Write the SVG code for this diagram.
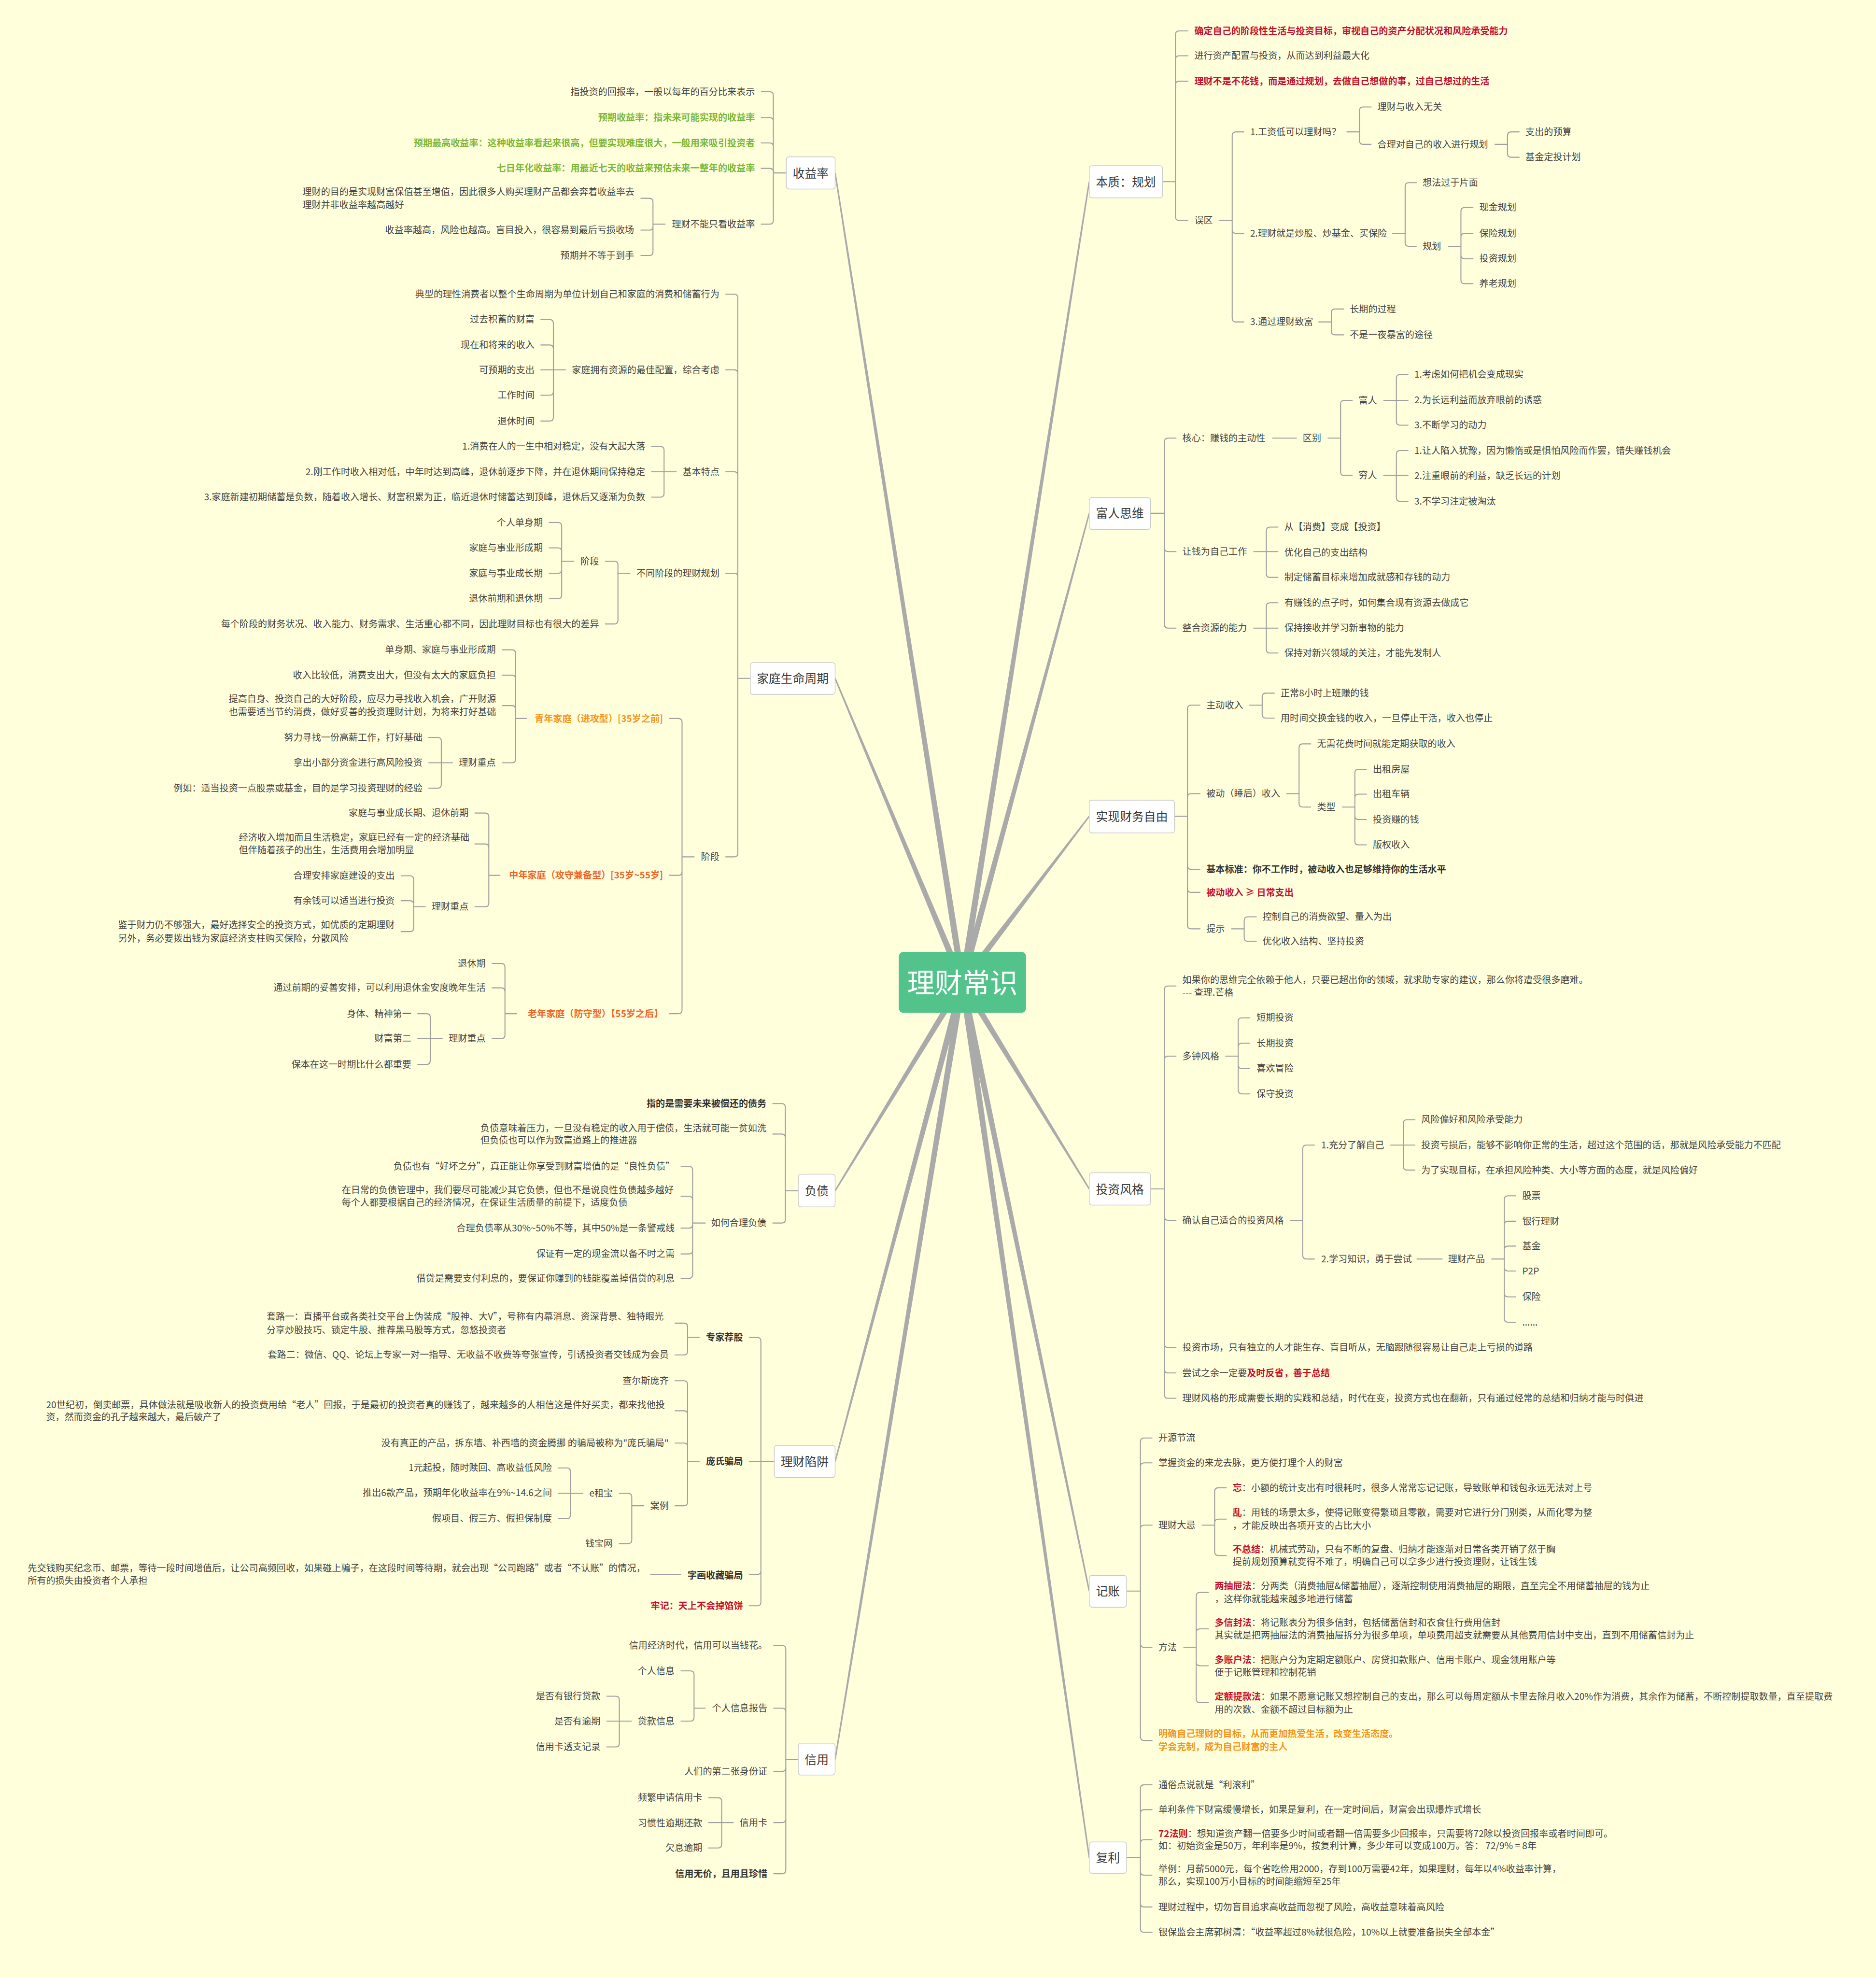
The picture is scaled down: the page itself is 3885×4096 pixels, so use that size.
<svg xmlns="http://www.w3.org/2000/svg" width="3885" height="4096" viewBox="0 0 3885 4096">
<style>
text{font-family:"Noto Sans CJK SC","Noto Sans",sans-serif;font-size:20px;fill:#444}
.e{text-anchor:end}
.b{font-weight:bold;fill:#333}
.r{font-weight:bold;fill:#c8102e}
.g{font-weight:bold;fill:#7cb83a}
.o{font-weight:bold;fill:#f7941d}
.o2{font-weight:bold;fill:#f2652a}
.m{font-size:26px;text-anchor:middle;fill:#3a3a3a}
.box{fill:#fff;stroke:#c9c9c9;stroke-width:1.5}
.c{fill:none;stroke:#a0a0a0;stroke-width:2.2}
.br{fill:#aaa}
</style>
<rect width="3885" height="4096" fill="#ffffdc"/>
<g transform="scale(0.955)">
<g id="connectors">
<polygon class="br" points="2093.9,2131.1 2363.5,394.2 2360.5,393.8 2080.1,2128.9"/>
<polygon class="br" points="2093.8,2131.8 2363.4,1113.4 2360.6,1112.6 2080.2,2128.2"/>
<polygon class="br" points="2092.6,2134.3 2363.2,1770.9 2360.8,1769.1 2081.4,2125.7"/>
<polygon class="br" points="2081.0,2133.7 2360.7,2578.8 2363.3,2577.2 2093.0,2126.3"/>
<polygon class="br" points="2080.1,2131.4 2360.5,3450.3 2363.5,3449.7 2093.9,2128.6"/>
<polygon class="br" points="2080.1,2131.0 2360.5,4028.2 2363.5,4027.8 2093.9,2129.0"/>
<polygon class="br" points="2093.9,2128.9 1812.5,374.8 1809.5,375.2 2080.1,2131.1"/>
<polygon class="br" points="2093.5,2127.3 1812.4,1470.4 1809.6,1471.6 2080.5,2132.7"/>
<polygon class="br" points="2081.0,2126.4 1809.7,2581.2 1812.3,2582.8 2093.0,2133.6"/>
<polygon class="br" points="2080.2,2128.2 1809.6,3168.6 1812.5,3169.4 2093.8,2131.8"/>
<polygon class="br" points="2080.1,2128.9 1809.5,3814.8 1812.5,3815.2 2093.9,2131.1"/>
<path class="c" d="M2521,394H2549 M2549,394V75Q2549,67 2557,67H2577 M2549,394V129Q2549,121 2557,121H2577 M2549,394V184Q2549,176 2557,176H2577 M2549,394V470Q2549,478 2557,478H2577"/>
<path class="c" d="M2643,478H2672 M2672,478V294Q2672,286 2680,286H2698 M2672,478V498Q2672,506 2680,506H2698 M2672,478V690Q2672,698 2680,698H2698"/>
<path class="c" d="M2920,286H2948 M2948,286V240Q2948,232 2956,232H2974 M2948,286V305Q2948,313 2956,313H2974"/>
<path class="c" d="M3241,313H3269 M3269,313V294Q3269,286 3277,286H3295 M3269,313V333Q3269,341 3277,341H3295"/>
<path class="c" d="M3019,506H3047 M3047,506V404Q3047,396 3055,396H3072 M3047,506V526Q3047,534 3055,534H3072"/>
<path class="c" d="M3140,534H3168 M3168,534V458Q3168,450 3176,450H3195 M3168,534V514Q3168,506 3176,506H3195 M3168,534V553Q3168,561 3176,561H3195 M3168,534V607Q3168,615 3176,615H3195"/>
<path class="c" d="M2859,698H2887 M2887,698V678Q2887,670 2895,670H2914 M2887,698V718Q2887,726 2895,726H2914"/>
<path class="c" d="M2495,1113H2525 M2525,1113V958Q2525,950 2533,950H2551 M2525,1113V1188Q2525,1196 2533,1196H2551 M2525,1113V1354Q2525,1362 2533,1362H2551"/>
<path class="c" d="M2759,950H2812"/>
<path class="c" d="M2879,950H2907 M2907,950V876Q2907,868 2915,868H2933 M2907,950V1023Q2907,1031 2915,1031H2933"/>
<path class="c" d="M3000,868H3028 M3028,868V820Q3028,812 3036,812H3054 M3028,868H3054 M3028,868V914Q3028,922 3036,922H3054"/>
<path class="c" d="M3000,1031H3028 M3028,1031V985Q3028,977 3036,977H3054 M3028,1031H3054 M3028,1031V1079Q3028,1087 3036,1087H3054"/>
<path class="c" d="M2718,1196H2746 M2746,1196V1151Q2746,1143 2754,1143H2772 M2746,1196H2772 M2746,1196V1244Q2746,1252 2754,1252H2772"/>
<path class="c" d="M2718,1362H2746 M2746,1362V1315Q2746,1307 2754,1307H2772 M2746,1362H2772 M2746,1362V1408Q2746,1416 2754,1416H2772"/>
<path class="c" d="M2547,1770H2575 M2575,1770V1537Q2575,1529 2583,1529H2603 M2575,1770V1729Q2575,1721 2583,1721H2603 M2575,1770V1877Q2575,1885 2583,1885H2603 M2575,1770V1927Q2575,1935 2583,1935H2603 M2575,1770V2006Q2575,2014 2583,2014H2603"/>
<path class="c" d="M2709,1529H2737 M2737,1529V1511Q2737,1503 2745,1503H2764 M2737,1529V1549Q2737,1557 2745,1557H2764"/>
<path class="c" d="M2789,1721H2817 M2817,1721V1621Q2817,1613 2825,1613H2843 M2817,1721V1742Q2817,1750 2825,1750H2843"/>
<path class="c" d="M2910,1750H2938 M2938,1750V1676Q2938,1668 2946,1668H2964 M2938,1750V1730Q2938,1722 2946,1722H2964 M2938,1750V1769Q2938,1777 2946,1777H2964 M2938,1750V1824Q2938,1832 2946,1832H2964"/>
<path class="c" d="M2670,2014H2698 M2698,2014V1996Q2698,1988 2706,1988H2725 M2698,2014V2033Q2698,2041 2706,2041H2725"/>
<path class="c" d="M2495,2578H2525 M2525,2578V2146Q2525,2138 2533,2138H2551 M2525,2578V2298Q2525,2290 2533,2290H2551 M2525,2578V2638Q2525,2646 2533,2646H2551 M2525,2578V2914Q2525,2922 2533,2922H2551 M2525,2578V2969Q2525,2977 2533,2977H2551 M2525,2578V3024Q2525,3032 2533,3032H2551"/>
<path class="c" d="M2657,2290H2685 M2685,2290V2215Q2685,2207 2693,2207H2711 M2685,2290V2270Q2685,2262 2693,2262H2711 M2685,2290V2309Q2685,2317 2693,2317H2711 M2685,2290V2364Q2685,2372 2693,2372H2711"/>
<path class="c" d="M2797,2646H2825 M2825,2646V2491Q2825,2483 2833,2483H2851 M2825,2646V2722Q2825,2730 2833,2730H2851"/>
<path class="c" d="M3015,2483H3043 M3043,2483V2436Q3043,2428 3051,2428H3069 M3043,2483H3069 M3043,2483V2529Q3043,2537 3051,2537H3069"/>
<path class="c" d="M3072,2730H3128"/>
<path class="c" d="M3234,2730H3262 M3262,2730V2601Q3262,2593 3270,2593H3288 M3262,2730V2656Q3262,2648 3270,2648H3288 M3262,2730V2710Q3262,2702 3270,2702H3288 M3262,2730V2748Q3262,2756 3270,2756H3288 M3262,2730V2804Q3262,2812 3270,2812H3288 M3262,2730V2859Q3262,2867 3270,2867H3288"/>
<path class="c" d="M2443,3450H2473 M2473,3450V3126Q2473,3118 2481,3118H2499 M2473,3450V3180Q2473,3172 2481,3172H2499 M2473,3450V3315Q2473,3307 2481,3307H2499 M2473,3450V3564Q2473,3572 2481,3572H2499 M2473,3450V3766Q2473,3774 2481,3774H2499"/>
<path class="c" d="M2606,3307H2634 M2634,3307V3234Q2634,3226 2642,3226H2660 M2634,3307V3302Q2634,3294 2642,3294H2660 M2634,3307V3365Q2634,3373 2642,3373H2660"/>
<path class="c" d="M2566,3572H2594 M2594,3572V3461Q2594,3453 2602,3453H2621 M2594,3572V3540Q2594,3532 2602,3532H2621 M2594,3572V3604Q2594,3612 2602,3612H2621 M2594,3572V3684Q2594,3692 2602,3692H2621"/>
<path class="c" d="M2443,4028H2473 M2473,4028V3878Q2473,3870 2481,3870H2499 M2473,4028V3932Q2473,3924 2481,3924H2499 M2473,4028V3997Q2473,3989 2481,3989H2499 M2473,4028V4058Q2473,4066 2481,4066H2499 M2473,4028V4127Q2473,4135 2481,4135H2499 M2473,4028V4182Q2473,4190 2481,4190H2499"/>
<path class="c" d="M1705,375H1677 M1677,375V207Q1677,199 1669,199H1650 M1677,375V263Q1677,255 1669,255H1650 M1677,375V318Q1677,310 1669,310H1650 M1677,375V373Q1677,365 1669,365H1650 M1677,375V478Q1677,486 1669,486H1650"/>
<path class="c" d="M1443,486H1416 M1416,486V438Q1416,430 1408,430H1389 M1416,486V491Q1416,499 1408,499H1389 M1416,486V546Q1416,554 1408,554H1389"/>
<path class="c" d="M1627,1471H1600 M1600,1471V646Q1600,638 1592,638H1573 M1600,1471V810Q1600,802 1592,802H1573 M1600,1471V1031Q1600,1023 1592,1023H1573 M1600,1471V1251Q1600,1243 1592,1243H1573 M1600,1471V1850Q1600,1858 1592,1858H1573"/>
<path class="c" d="M1227,802H1200 M1200,802V701Q1200,693 1192,693H1172 M1200,802V756Q1200,748 1192,748H1172 M1200,802H1172 M1200,802V849Q1200,857 1192,857H1172 M1200,802V905Q1200,913 1192,913H1172"/>
<path class="c" d="M1467,1023H1440 M1440,1023V976Q1440,968 1432,968H1412 M1440,1023H1412 M1440,1023V1070Q1440,1078 1432,1078H1412"/>
<path class="c" d="M1367,1243H1340 M1340,1243V1225Q1340,1217 1332,1217H1312 M1340,1243V1345Q1340,1353 1332,1353H1312"/>
<path class="c" d="M1245,1217H1218 M1218,1217V1141Q1218,1133 1210,1133H1190 M1218,1217V1196Q1218,1188 1210,1188H1190 M1218,1217V1235Q1218,1243 1210,1243H1190 M1218,1217V1290Q1218,1298 1210,1298H1190"/>
<path class="c" d="M1506,1858H1479 M1479,1858V1566Q1479,1558 1471,1558H1451 M1479,1858V1890Q1479,1898 1471,1898H1451 M1479,1858V2190Q1479,2198 1471,2198H1451"/>
<path class="c" d="M1143,1558H1118 M1118,1558V1417Q1118,1409 1110,1409H1088 M1118,1558V1472Q1118,1464 1110,1464H1088 M1118,1558V1538Q1118,1530 1110,1530H1088 M1118,1558V1646Q1118,1654 1110,1654H1088"/>
<path class="c" d="M982,1654H957 M957,1654V1607Q957,1599 949,1599H929 M957,1654H929 M957,1654V1701Q957,1709 949,1709H929"/>
<path class="c" d="M1085,1898H1060 M1060,1898V1771Q1060,1763 1052,1763H1029 M1060,1898V1838Q1060,1830 1052,1830H1029 M1060,1898V1958Q1060,1966 1052,1966H1029"/>
<path class="c" d="M923,1966H897 M897,1966V1907Q897,1899 889,1899H869 M897,1966V1961Q897,1953 889,1953H869 M897,1966V2012Q897,2020 889,2020H869"/>
<path class="c" d="M1121,2198H1095 M1095,2198V2097Q1095,2089 1087,2089H1066 M1095,2198V2150Q1095,2142 1087,2142H1066 M1095,2198V2244Q1095,2252 1087,2252H1066"/>
<path class="c" d="M960,2252H933 M933,2252V2206Q933,2198 925,2198H905 M933,2252H905 M933,2252V2300Q933,2308 925,2308H905"/>
<path class="c" d="M1731,2582H1703 M1703,2582V2401Q1703,2393 1695,2393H1675 M1703,2582V2467Q1703,2459 1695,2459H1675 M1703,2582V2644Q1703,2652 1695,2652H1675"/>
<path class="c" d="M1530,2652H1502 M1502,2652V2537Q1502,2529 1494,2529H1476 M1502,2652V2602Q1502,2594 1494,2594H1476 M1502,2652V2655Q1502,2663 1494,2663H1476 M1502,2652V2711Q1502,2719 1494,2719H1476 M1502,2652V2764Q1502,2772 1494,2772H1476"/>
<path class="c" d="M1679,3169H1650 M1650,3169V2908Q1650,2900 1642,2900H1624 M1650,3169H1624 M1650,3169V3406Q1650,3414 1642,3414H1624 M1650,3169V3474Q1650,3482 1642,3482H1624"/>
<path class="c" d="M1517,2900H1491 M1491,2900V2877Q1491,2869 1483,2869H1463 M1491,2900V2930Q1491,2938 1483,2938H1463"/>
<path class="c" d="M1517,3169H1491 M1491,3169V3002Q1491,2994 1483,2994H1463 M1491,3169V3067Q1491,3059 1483,3059H1463 M1491,3169V3137Q1491,3129 1483,3129H1463 M1491,3169V3257Q1491,3265 1483,3265H1463"/>
<path class="c" d="M1397,3265H1370 M1370,3265V3246Q1370,3238 1362,3238H1342 M1370,3265V3339Q1370,3347 1362,3347H1342"/>
<path class="c" d="M1264,3238H1237 M1237,3238V3191Q1237,3183 1229,3183H1210 M1237,3238H1210 M1237,3238V3285Q1237,3293 1229,3293H1210"/>
<path class="c" d="M1477,3414H1410"/>
<path class="c" d="M1731,3815H1704 M1704,3815V3576Q1704,3568 1696,3568H1677 M1704,3815V3712Q1704,3704 1696,3704H1677 M1704,3815V3833Q1704,3841 1696,3841H1677 M1704,3815V3944Q1704,3952 1696,3952H1677 M1704,3815V4055Q1704,4063 1696,4063H1677"/>
<path class="c" d="M1530,3704H1505 M1505,3704V3631Q1505,3623 1497,3623H1476 M1505,3704V3724Q1505,3732 1497,3732H1476"/>
<path class="c" d="M1370,3732H1343 M1343,3732V3686Q1343,3678 1335,3678H1315 M1343,3732H1315 M1343,3732V3780Q1343,3788 1335,3788H1315"/>
<path class="c" d="M1591,3952H1565 M1565,3952V3906Q1565,3898 1557,3898H1536 M1565,3952H1536 M1565,3952V3999Q1565,4007 1557,4007H1536"/>
</g>

<g id="root">
<rect x="1949" y="2064" width="276" height="132" rx="10" fill="#52c38b"/>
<text x="2087" y="2153" style="font-size:60px;fill:#fff;text-anchor:middle">理财常识</text>
</g>

<g id="n-benzhi">
<rect class="box" x="2362" y="359" width="159" height="70" rx="6"/>
<text class="m" x="2441.5" y="404">本质：规划</text>
<text class="r" x="2590" y="74">确定自己的阶段性生活与投资目标，审视自己的资产分配状况和风险承受能力</text>
<text x="2590" y="128">进行资产配置与投资，从而达到利益最大化</text>
<text class="r" x="2590" y="183">理财不是不花钱，而是通过规划，去做自己想做的事，过自己想过的生活</text>
<text x="2590" y="485">误区</text>
<text x="2711" y="293">1.工资低可以理财吗？</text>
<text x="2711" y="513">2.理财就是炒股、炒基金、买保险</text>
<text x="2711" y="705">3.通过理财致富</text>
<text x="2987" y="239">理财与收入无关</text>
<text x="2987" y="320">合理对自己的收入进行规划</text>
<text x="3308" y="293">支出的预算</text>
<text x="3308" y="348">基金定投计划</text>
<text x="3085" y="403">想法过于片面</text>
<text x="3085" y="541">规划</text>
<text x="3208" y="457">现金规划</text>
<text x="3208" y="513">保险规划</text>
<text x="3208" y="568">投资规划</text>
<text x="3208" y="622">养老规划</text>
<text x="2927" y="677">长期的过程</text>
<text x="2927" y="733">不是一夜暴富的途径</text>
</g>

<g id="n-furen">
<rect class="box" x="2362" y="1079" width="133" height="69" rx="6"/>
<text class="m" x="2428.5" y="1123">富人思维</text>
<text x="2564" y="957">核心：赚钱的主动性</text>
<text x="2564" y="1203">让钱为自己工作</text>
<text x="2564" y="1369">整合资源的能力</text>
<text x="2825" y="957">区别</text>
<text x="2946" y="875">富人</text>
<text x="2946" y="1038">穷人</text>
<text x="3067" y="819">1.考虑如何把机会变成现实</text>
<text x="3067" y="874">2.为长远利益而放弃眼前的诱惑</text>
<text x="3067" y="929">3.不断学习的动力</text>
<text x="3067" y="984">1.让人陷入犹豫，因为懒惰或是惧怕风险而作罢，错失赚钱机会</text>
<text x="3067" y="1039">2.注重眼前的利益，缺乏长远的计划</text>
<text x="3067" y="1094">3.不学习注定被淘汰</text>
<text x="2785" y="1150">从【消费】变成【投资】</text>
<text x="2785" y="1205">优化自己的支出结构</text>
<text x="2785" y="1259">制定储蓄目标来增加成就感和存钱的动力</text>
<text x="2785" y="1314">有赚钱的点子时，如何集合现有资源去做成它</text>
<text x="2785" y="1369">保持接收并学习新事物的能力</text>
<text x="2785" y="1423">保持对新兴领域的关注，才能先发制人</text>
</g>

<g id="n-ziyou">
<rect class="box" x="2362" y="1735" width="185" height="71" rx="6"/>
<text class="m" x="2454.5" y="1780">实现财务自由</text>
<text x="2616" y="1536">主动收入</text>
<text x="2616" y="1728">被动（睡后）收入</text>
<text class="b" x="2616" y="1892">基本标准：你不工作时，被动收入也足够维持你的生活水平</text>
<text class="r" x="2616" y="1942">被动收入 ≥ 日常支出</text>
<text x="2616" y="2021">提示</text>
<text x="2777" y="1510">正常8小时上班赚的钱</text>
<text x="2777" y="1564">用时间交换金钱的收入，一旦停止干活，收入也停止</text>
<text x="2856" y="1620">无需花费时间就能定期获取的收入</text>
<text x="2856" y="1757">类型</text>
<text x="2977" y="1675">出租房屋</text>
<text x="2977" y="1729">出租车辆</text>
<text x="2977" y="1784">投资赚的钱</text>
<text x="2977" y="1839">版权收入</text>
<text x="2738" y="1995">控制自己的消费欲望、量入为出</text>
<text x="2738" y="2048">优化收入结构、坚持投资</text>
</g>

<g id="n-touzi">
<rect class="box" x="2362" y="2543" width="133" height="70" rx="6"/>
<text class="m" x="2428.5" y="2588">投资风格</text>
<text x="2564" y="2132">如果你的思维完全依赖于他人，只要已超出你的领域，就求助专家的建议，那么你将遭受很多磨难。</text>
<text x="2564" y="2159">--- 查理.芒格</text>
<text x="2564" y="2297">多钟风格</text>
<text x="2564" y="2653">确认自己适合的投资风格</text>
<text x="2564" y="2929">投资市场，只有独立的人才能生存、盲目听从，无脑跟随很容易让自己走上亏损的道路</text>
<text x="2564" y="2984">尝试之余一定要<tspan class="r">及时反省，善于总结</tspan></text>
<text x="2564" y="3039">理财风格的形成需要长期的实践和总结，时代在变，投资方式也在翻新，只有通过经常的总结和归纳才能与时俱进</text>
<text x="2725" y="2214">短期投资</text>
<text x="2725" y="2269">长期投资</text>
<text x="2725" y="2324">喜欢冒险</text>
<text x="2725" y="2379">保守投资</text>
<text x="2865" y="2490">1.充分了解自己</text>
<text x="2865" y="2737">2.学习知识，勇于尝试</text>
<text x="3082" y="2435">风险偏好和风险承受能力</text>
<text x="3082" y="2490">投资亏损后，能够不影响你正常的生活，超过这个范围的话，那就是风险承受能力不匹配</text>
<text x="3082" y="2544">为了实现目标，在承担风险种类、大小等方面的态度，就是风险偏好</text>
<text x="3140" y="2737">理财产品</text>
<text x="3301" y="2600">股票</text>
<text x="3301" y="2655">银行理财</text>
<text x="3301" y="2709">基金</text>
<text x="3301" y="2763">P2P</text>
<text x="3301" y="2819">保险</text>
<text x="3301" y="2874">......</text>
</g>

<g id="n-jizhang">
<rect class="box" x="2362" y="3416" width="81" height="69" rx="6"/>
<text class="m" x="2402.5" y="3460">记账</text>
<text x="2512" y="3125">开源节流</text>
<text x="2512" y="3179">掌握资金的来龙去脉，更方便打理个人的财富</text>
<text x="2512" y="3314">理财大忌</text>
<text x="2512" y="3579">方法</text>
<text class="o" x="2512" y="3767">明确自己理财的目标，从而更加热爱生活，改变生活态度。</text>
<text class="o" x="2512" y="3795">学会克制，成为自己财富的主人</text>
<text x="2673" y="3234"><tspan class="r">忘</tspan>：小额的统计支出有时很耗时，很多人常常忘记记账，导致账单和钱包永远无法对上号</text>
<text x="2673" y="3287"><tspan class="r">乱</tspan>：用钱的场景太多，使得记账变得繁琐且零散，需要对它进行分门别类，从而化零为整</text>
<text x="2673" y="3315">，才能反映出各项开支的占比大小</text>
<text x="2673" y="3367"><tspan class="r">不总结</tspan>：机械式劳动，只有不断的复盘、归纳才能逐渐对日常各类开销了然于胸</text>
<text x="2673" y="3394">提前规划预算就变得不难了，明确自己可以拿多少进行投资理财，让钱生钱</text>
<text x="2634" y="3446"><tspan class="r">两抽屉法</tspan>：分两类（消费抽屉&amp;储蓄抽屉），逐渐控制使用消费抽屉的期限，直至完全不用储蓄抽屉的钱为止</text>
<text x="2634" y="3474">，这样你就能越来越多地进行储蓄</text>
<text x="2634" y="3526"><tspan class="r">多信封法</tspan>：将记账表分为很多信封，包括储蓄信封和衣食住行费用信封</text>
<text x="2634" y="3553">其实就是把两抽屉法的消费抽屉拆分为很多单项，单项费用超支就需要从其他费用信封中支出，直到不用储蓄信封为止</text>
<text x="2634" y="3606"><tspan class="r">多账户法</tspan>：把账户分为定期定额账户、房贷扣款账户、信用卡账户、现金领用账户等</text>
<text x="2634" y="3634">便于记账管理和控制花销</text>
<text x="2634" y="3686"><tspan class="r">定额提款法</tspan>：如果不愿意记账又想控制自己的支出，那么可以每周定额从卡里去除月收入20%作为消费，其余作为储蓄，不断控制提取数量，直至提取费</text>
<text x="2634" y="3714">用的次数、金额不超过目标额为止</text>
</g>

<g id="n-fuli">
<rect class="box" x="2362" y="3994" width="81" height="68" rx="6"/>
<text class="m" x="2402.5" y="4038">复利</text>
<text x="2512" y="3877">通俗点说就是“利滚利”</text>
<text x="2512" y="3931">单利条件下财富缓慢增长，如果是复利，在一定时间后，财富会出现爆炸式增长</text>
<text x="2512" y="3983"><tspan class="r">72法则</tspan>：想知道资产翻一倍要多少时间或者翻一倍需要多少回报率，只需要将72除以投资回报率或者时间即可。</text>
<text x="2512" y="4009">如：初始资金是50万，年利率是9%，按复利计算，多少年可以变成100万。答： 72/9% = 8年</text>
<text x="2512" y="4060">举例：月薪5000元，每个省吃俭用2000，存到100万需要42年，如果理财，每年以4%收益率计算，</text>
<text x="2512" y="4087">那么，实现100万小目标的时间能缩短至25年</text>
<text x="2512" y="4142">理财过程中，切勿盲目追求高收益而忽视了风险，高收益意味着高风险</text>
<text x="2512" y="4197">银保监会主席郭树清：“收益率超过8%就很危险，10%以上就要准备损失全部本金”</text>
</g>

<g id="n-shouyi">
<rect class="box" x="1705" y="340" width="106" height="70" rx="6"/>
<text class="m" x="1758" y="385">收益率</text>
<text class="e" x="1637" y="206">指投资的回报率，一般以每年的百分比来表示</text>
<text class="e g" x="1637" y="262">预期收益率：指未来可能实现的收益率</text>
<text class="e g" x="1637" y="317">预期最高收益率：这种收益率看起来很高，但要实现难度很大，一般用来吸引投资者</text>
<text class="e g" x="1637" y="372">七日年化收益率：用最近七天的收益来预估未来一整年的收益率</text>
<text class="e" x="1637" y="493">理财不能只看收益率</text>
<text x="656" y="423">理财的目的是实现财富保值甚至增值，因此很多人购买理财产品都会奔着收益率去</text>
<text x="656" y="451">理财并非收益率越高越好</text>
<text class="e" x="1375" y="506">收益率越高，风险也越高。盲目投入，很容易到最后亏损收场</text>
<text class="e" x="1375" y="561">预期并不等于到手</text>
</g>

<g id="n-shengming">
<rect class="box" x="1627" y="1437" width="184" height="69" rx="6"/>
<text class="m" x="1719" y="1481">家庭生命周期</text>
<text class="e" x="1560" y="645">典型的理性消费者以整个生命周期为单位计划自己和家庭的消费和储蓄行为</text>
<text class="e" x="1560" y="809">家庭拥有资源的最佳配置，综合考虑</text>
<text class="e" x="1560" y="1030">基本特点</text>
<text class="e" x="1560" y="1250">不同阶段的理财规划</text>
<text class="e" x="1560" y="1865">阶段</text>
<text class="e" x="1159" y="700">过去积蓄的财富</text>
<text class="e" x="1159" y="755">现在和将来的收入</text>
<text class="e" x="1159" y="809">可预期的支出</text>
<text class="e" x="1159" y="864">工作时间</text>
<text class="e" x="1159" y="920">退休时间</text>
<text class="e" x="1399" y="975">1.消费在人的一生中相对稳定，没有大起大落</text>
<text class="e" x="1399" y="1030">2.刚工作时收入相对低，中年时达到高峰，退休前逐步下降，并在退休期间保持稳定</text>
<text class="e" x="1399" y="1085">3.家庭新建初期储蓄是负数，随着收入增长、财富积累为正，临近退休时储蓄达到顶峰，退休后又逐渐为负数</text>
<text class="e" x="1299" y="1224">阶段</text>
<text class="e" x="1299" y="1360">每个阶段的财务状况、收入能力、财务需求、生活重心都不同，因此理财目标也有很大的差异</text>
<text class="e" x="1177" y="1140">个人单身期</text>
<text class="e" x="1177" y="1195">家庭与事业形成期</text>
<text class="e" x="1177" y="1250">家庭与事业成长期</text>
<text class="e" x="1177" y="1305">退休前期和退休期</text>
<text class="e o" x="1438" y="1565">青年家庭（进攻型）[35岁之前]</text>
<text class="e o2" x="1438" y="1905">中年家庭（攻守兼备型）[35岁~55岁]</text>
<text class="e o2" x="1438" y="2205">老年家庭（防守型）【55岁之后】</text>
<text class="e" x="1075" y="1416">单身期、家庭与事业形成期</text>
<text class="e" x="1075" y="1471">收入比较低，消费支出大，但没有太大的家庭负担</text>
<text x="496" y="1523">提高自身、投资自己的大好阶段，应尽力寻找收入机会，广开财源</text>
<text x="496" y="1551">也需要适当节约消费，做好妥善的投资理财计划，为将来打好基础</text>
<text class="e" x="1075" y="1661">理财重点</text>
<text class="e" x="916" y="1606">努力寻找一份高薪工作，打好基础</text>
<text class="e" x="916" y="1661">拿出小部分资金进行高风险投资</text>
<text class="e" x="916" y="1716">例如：适当投资一点股票或基金，目的是学习投资理财的经验</text>
<text class="e" x="1016" y="1770">家庭与事业成长期、退休前期</text>
<text x="518" y="1823">经济收入增加而且生活稳定，家庭已经有一定的经济基础</text>
<text x="518" y="1850">但伴随着孩子的出生，生活费用会增加明显</text>
<text class="e" x="1016" y="1973">理财重点</text>
<text class="e" x="856" y="1906">合理安排家庭建设的支出</text>
<text class="e" x="856" y="1960">有余钱可以适当进行投资</text>
<text x="256" y="2013">鉴于财力仍不够强大，最好选择安全的投资方式，如优质的定期理财</text>
<text x="256" y="2042">另外，务必要拨出钱为家庭经济支柱购买保险，分散风险</text>
<text class="e" x="1053" y="2096">退休期</text>
<text class="e" x="1053" y="2149">通过前期的妥善安排，可以利用退休金安度晚年生活</text>
<text class="e" x="1053" y="2259">理财重点</text>
<text class="e" x="892" y="2205">身体、精神第一</text>
<text class="e" x="892" y="2259">财富第二</text>
<text class="e" x="892" y="2315">保本在这一时期比什么都重要</text>
</g>

<g id="n-fuzhai">
<rect class="box" x="1731" y="2546" width="80" height="71" rx="6"/>
<text class="m" x="1771" y="2592">负债</text>
<text class="e b" x="1662" y="2400">指的是需要未来被偿还的债务</text>
<text x="1042" y="2453">负债意味着压力，一旦没有稳定的收入用于偿债，生活就可能一贫如洗</text>
<text x="1042" y="2480">但负债也可以作为致富道路上的推进器</text>
<text class="e" x="1662" y="2659">如何合理负债</text>
<text class="e" x="1463" y="2536">负债也有“好坏之分”，真正能让你享受到财富增值的是“良性负债”</text>
<text x="741" y="2587">在日常的负债管理中，我们要尽可能减少其它负债，但也不是说良性负债越多越好</text>
<text x="741" y="2615">每个人都要根据自己的经济情况，在保证生活质量的前提下，适度负债</text>
<text class="e" x="1463" y="2670">合理负债率从30%~50%不等，其中50%是一条警戒线</text>
<text class="e" x="1463" y="2726">保证有一定的现金流以备不时之需</text>
<text class="e" x="1463" y="2779">借贷是需要支付利息的，要保证你赚到的钱能覆盖掉借贷的利息</text>
</g>

<g id="n-xianjing">
<rect class="box" x="1679" y="3134" width="132" height="70" rx="6"/>
<text class="m" x="1745" y="3179">理财陷阱</text>
<text class="e b" x="1611" y="2907">专家荐股</text>
<text class="e b" x="1611" y="3176">庞氏骗局</text>
<text class="e b" x="1611" y="3423">字画收藏骗局</text>
<text class="e r" x="1611" y="3489">牢记：天上不会掉馅饼</text>
<text x="578" y="2862">套路一：直播平台或各类社交平台上伪装成“股神、大V”，号称有内幕消息、资深背景、独特眼光</text>
<text x="578" y="2891">分享炒股技巧、锁定牛股、推荐黑马股等方式，忽悠投资者</text>
<text class="e" x="1450" y="2945">套路二：微信、QQ、论坛上专家一对一指导、无收益不收费等夸张宣传，引诱投资者交钱成为会员</text>
<text class="e" x="1450" y="3001">查尔斯庞齐</text>
<text x="100" y="3053">20世纪初，倒卖邮票，具体做法就是吸收新人的投资费用给“老人”回报，于是最初的投资者真的赚钱了，越来越多的人相信这是件好买卖，都来找他投</text>
<text x="100" y="3080">资，然而资金的孔子越来越大，最后破产了</text>
<text class="e" x="1450" y="3136">没有真正的产品，拆东墙、补西墙的资金腾挪 的骗局被称为"庞氏骗局"</text>
<text class="e" x="1450" y="3272">案例</text>
<text class="e" x="1329" y="3245">e租宝</text>
<text class="e" x="1329" y="3354">钱宝网</text>
<text class="e" x="1197" y="3190">1元起投，随时赎回、高收益低风险</text>
<text class="e" x="1197" y="3244">推出6款产品，预期年化收益率在9%~14.6之间</text>
<text class="e" x="1197" y="3300">假项目、假三方、假担保制度</text>
<text x="60" y="3407">先交钱购买纪念币、邮票，等待一段时间增值后，让公司高频回收，如果碰上骗子，在这段时间等待期，就会出现“公司跑路”或者“不认账”的情况，</text>
<text x="60" y="3435">所有的损失由投资者个人承担</text>
</g>

<g id="n-xinyong">
<rect class="box" x="1731" y="3780" width="80" height="69" rx="6"/>
<text class="m" x="1771" y="3825">信用</text>
<text class="e" x="1664" y="3575">信用经济时代，信用可以当钱花。</text>
<text class="e" x="1664" y="3711">个人信息报告</text>
<text class="e" x="1664" y="3848">人们的第二张身份证</text>
<text class="e" x="1664" y="3959">信用卡</text>
<text class="e b" x="1664" y="4070">信用无价，且用且珍惜</text>
<text class="e" x="1463" y="3630">个人信息</text>
<text class="e" x="1463" y="3739">贷款信息</text>
<text class="e" x="1302" y="3685">是否有银行贷款</text>
<text class="e" x="1302" y="3739">是否有逾期</text>
<text class="e" x="1302" y="3795">信用卡透支记录</text>
<text class="e" x="1523" y="3905">频繁申请信用卡</text>
<text class="e" x="1523" y="3960">习惯性逾期还款</text>
<text class="e" x="1523" y="4014">欠息逾期</text>
</g>
</g>
</svg>
